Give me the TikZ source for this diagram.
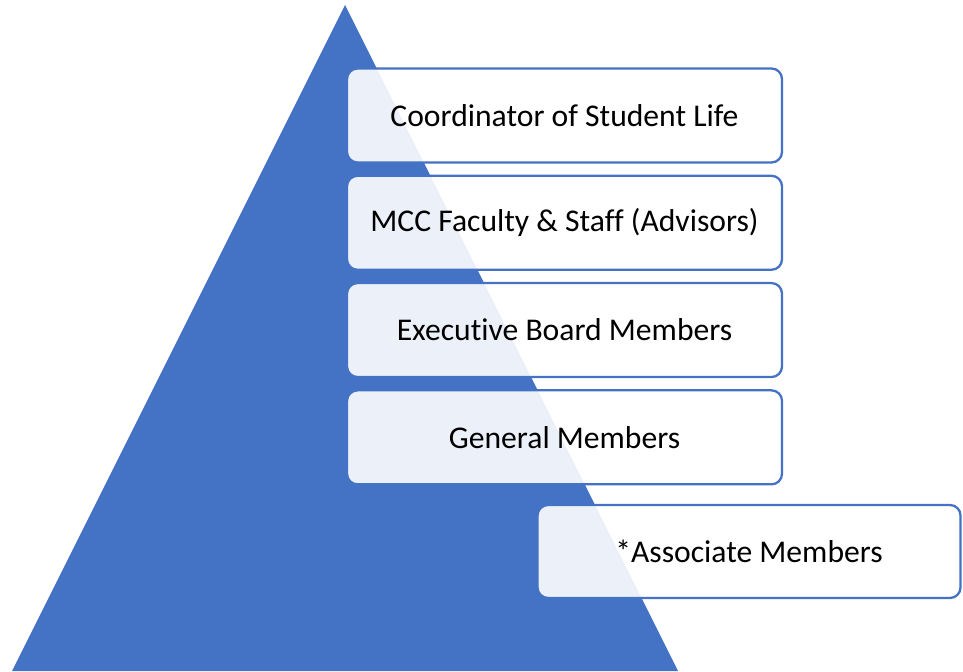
\documentclass[tikz,border=0pt]{standalone}
\usepackage{fontspec}
\setmainfont[Ligatures=NoCommon]{Carlito}
\usepackage{xcolor}
\definecolor{pyramid}{HTML}{4472C4}
\usetikzlibrary{positioning}

\tikzset{
  level/.style={draw=pyramid, line width=1.3pt, rounded corners=6pt, fill=white, fill opacity=0.9, text opacity=1,
    minimum width=8.7cm, minimum height=1.88cm, font=\fontsize{18}{21}\selectfont, text=black},
}

\begin{document}
\begin{tikzpicture}

  \useasboundingbox (0,0) rectangle (19.26,13.42);

  % Pyramid
  \fill[pyramid] (0.24,0) -- (6.9,13.32) -- (13.56,0) -- cycle;

  % Levels
  \node[level] (coord) at (11.29,11.11) {Coordinator of Student Life};
  \node[level, below=0.22cm of coord] (advisors) {MCC Faculty \& Staff (Advisors)};
  \node[level, below=0.22cm of advisors] (board) {Executive Board Members};
  \node[level, below=0.22cm of board] (general) {General Members};

  % Associate members
  \node[level, minimum width=8.46cm, minimum height=1.86cm] (assoc) at (14.98,2.39) {*Associate Members};

\end{tikzpicture}
\end{document}
